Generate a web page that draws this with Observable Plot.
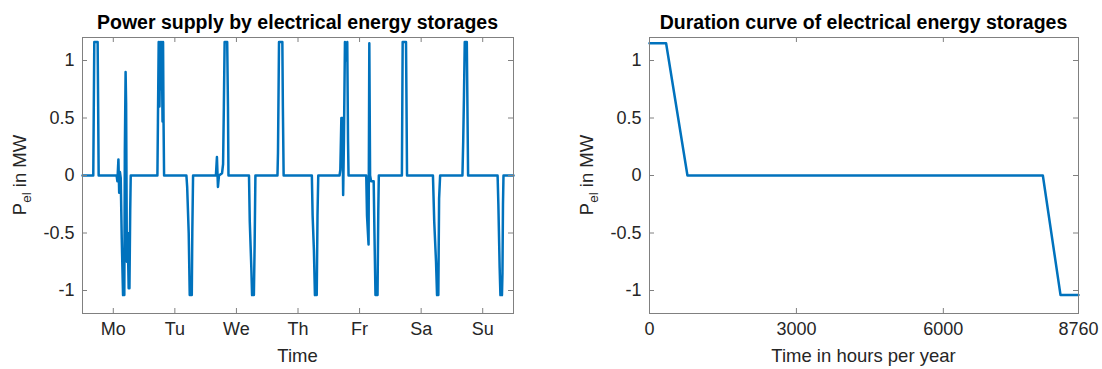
<!DOCTYPE html>
<html>
<head>
<meta charset="utf-8">
<script src="https://cdn.jsdelivr.net/npm/d3@7"></script>
<script src="https://cdn.jsdelivr.net/npm/@observablehq/plot@0.6"></script>
<style>
  html, body { margin: 0; padding: 0; background: #fff; }
  #wrap { display: flex; flex-direction: row; width: 1102px; height: 369px; }
</style>
</head>
<body>
<div id="wrap"></div>
<script>
// ---------- data ----------
const dayLabels = ["Mo", "Tu", "We", "Th", "Fr", "Sa", "Su"];
const dayTickHours = [12, 36, 60, 84, 108, 132, 156];

// breakpoints of the weekly power curve (hour of week, MW)
const weekHours = [
  0, 4.2, 4.4, 4.6, 5.9, 6.1, 6.3,
  13.3, 13.6, 14.0, 14.3, 14.6, 14.9, 15.3, 15.8, 16.3, 16.5, 16.8, 17.0, 17.3, 17.6, 18.0, 18.3, 18.6, 18.8,
  29.2, 29.4, 29.7, 30.0, 30.3, 30.6, 30.9, 31.2, 31.4, 31.6, 31.8,
  40.5, 40.8, 41.4, 41.8, 42.6, 42.8, 43.1,
  52.0, 52.4, 52.8, 53.2, 54.4, 54.8, 55.1, 55.4, 56.4, 56.7, 56.9,
  64.9, 65.2, 65.8, 66.1, 66.8, 67.1, 67.4,
  76.0, 76.2, 76.6, 77.9, 78.1, 78.4,
  89.4, 89.7, 90.2, 90.6, 91.3, 91.6, 91.9,
  100.2, 100.5, 100.9, 101.3, 101.6, 101.9, 102.3, 102.8, 103.2, 103.5, 103.7,
  110.6, 110.9, 111.5, 111.8, 112.1, 112.5, 113.5, 113.8, 114.2, 115.0, 115.3, 115.5,
  124.5, 124.8, 126.1, 126.3, 126.5,
  136.6, 137.1, 137.8, 138.2, 138.7, 139.0, 139.4,
  148.1, 148.4, 148.7, 149.0, 149.8, 150.0, 150.3,
  161.8, 162.1, 162.6, 162.9, 163.5, 163.7, 163.9, 164.1,
  168
];
const weekPower = [
  0, 0, 0.6, 1.16, 1.16, 0.6, 0,
  0, -0.05, 0.14, -0.15, 0.03, -0.02, -0.55, -1.04, -1.04, 0.2, 0.9, 0.63, -0.75, -0.5, -0.98, -0.98, -0.3, 0,
  0, 0.47, 1.16, 0.6, 1.16, 0.75, 1.16, 0.47, 1.16, 0.45, 0,
  0, -0.1, -0.5, -1.04, -1.04, -0.5, 0,
  0, 0.16, -0.1, 0, 0.02, 0.1, 0.6, 1.16, 1.16, 0.6, 0,
  0, -0.4, -0.8, -1.04, -1.04, -0.6, 0,
  0, 0.2, 1.16, 1.16, 0.6, 0,
  0, -0.35, -0.65, -1.04, -1.04, -0.35, 0,
  0, 0.05, 0.5, 0.5, -0.17, 0.3, 1.16, 1.0, 1.16, 0.3, 0,
  0, -0.35, -0.6, 1.15, 0, -0.05, -0.05, -0.5, -1.04, -1.04, -0.3, 0,
  0, 1.16, 1.16, 0.6, 0,
  0, -0.4, -0.75, -1.04, -1.04, -0.2, 0,
  0, 0.3, 0.7, 1.16, 1.16, 0.7, 0,
  0, -0.25, -0.8, -1.04, -1.04, -0.85, -0.25, 0,
  0
];

// duration curve breakpoints (hours per year, MW)
const durHours = [0, 339, 775, 8032, 8393, 8760];
const durPower = [1.15, 1.15, 0, 0, -1.04, -1.04];
const durTicks = [0, 3000, 6000, 8760];

const yTicks = [-1, -0.5, 0, 0.5, 1];

// ---------- helpers ----------
const FONT = "'Liberation Sans', Arial, Helvetica, sans-serif";
const AXIS = "#808080";
const TEXT = "#262626";
const LINE = "#0072BD";
const W = 551, H = 369, MT = 37, MB = 56, TICK = 5;

function panel({data, xDomain, xTicks, xFmt, marginLeft, marginRight, title, xLabel, yLabelX}) {
  const pw = W - marginLeft - marginRight;
  const ph = H - MT - MB;
  const svg = Plot.plot({
    width: W, height: H,
    marginLeft, marginRight, marginTop: MT, marginBottom: MB,
    x: {domain: xDomain},
    y: {domain: [-1.2, 1.2]},
    style: {fontFamily: FONT, fontSize: "18px", color: TEXT, background: "#fff", overflow: "visible"},
    marks: [
      Plot.line(data, {x: "h", y: "p", stroke: LINE, strokeWidth: 2.5, strokeLinejoin: "round"}),
      Plot.frame({stroke: AXIS, strokeWidth: 1}),
      Plot.ruleY(yTicks, {stroke: AXIS, insetRight: pw - TICK}),
      Plot.ruleY(yTicks, {stroke: AXIS, insetLeft: pw - TICK}),
      Plot.ruleX(xTicks, {stroke: AXIS, insetTop: ph - TICK}),
      Plot.ruleX(xTicks, {stroke: AXIS, insetBottom: ph - TICK}),
      Plot.axisX(xTicks, {tickSize: 0, tickPadding: 9, tickFormat: xFmt, label: null, fill: TEXT, fontSize: 18}),
      Plot.axisY(yTicks, {tickSize: 0, tickPadding: 8, tickFormat: d => String(d), label: null, fill: TEXT, fontSize: 18})
    ]
  });
  const s = d3.select(svg);
  const cx = marginLeft + pw / 2;
  s.append("text")
    .attr("x", cx).attr("y", 29)
    .attr("text-anchor", "middle")
    .attr("font-family", FONT).attr("font-weight", "bold").attr("font-size", 19.5)
    .attr("fill", "#000")
    .text(title);
  s.append("text")
    .attr("x", cx).attr("y", 362)
    .attr("text-anchor", "middle")
    .attr("font-family", FONT).attr("font-size", 18.5)
    .attr("fill", TEXT)
    .text(xLabel);
  const yl = s.append("text")
    .attr("transform", `translate(${yLabelX},${MT + ph / 2}) rotate(-90)`)
    .attr("text-anchor", "middle")
    .attr("font-family", FONT).attr("font-size", 18.5)
    .attr("fill", TEXT);
  yl.append("tspan").text("P");
  yl.append("tspan").attr("font-size", 13.5).attr("dy", 5).text("el");
  yl.append("tspan").attr("dy", -5).text(" in MW");
  return svg;
}

const weekData = weekHours.map((h, i) => ({h, p: weekPower[i]}));
const durData = durHours.map((h, i) => ({h, p: durPower[i]}));

const wrap = document.getElementById("wrap");
wrap.appendChild(panel({
  data: weekData, xDomain: [0, 168], xTicks: dayTickHours,
  xFmt: d => dayLabels[dayTickHours.indexOf(d)],
  marginLeft: 82, marginRight: 38,
  title: "Power supply by electrical energy storages",
  xLabel: "Time", yLabelX: 26
}));
wrap.appendChild(panel({
  data: durData, xDomain: [0, 8760], xTicks: durTicks,
  xFmt: d => String(d),
  marginLeft: 98, marginRight: 24,
  title: "Duration curve of electrical energy storages",
  xLabel: "Time in hours per year", yLabelX: 42
}));
</script>
</body>
</html>
